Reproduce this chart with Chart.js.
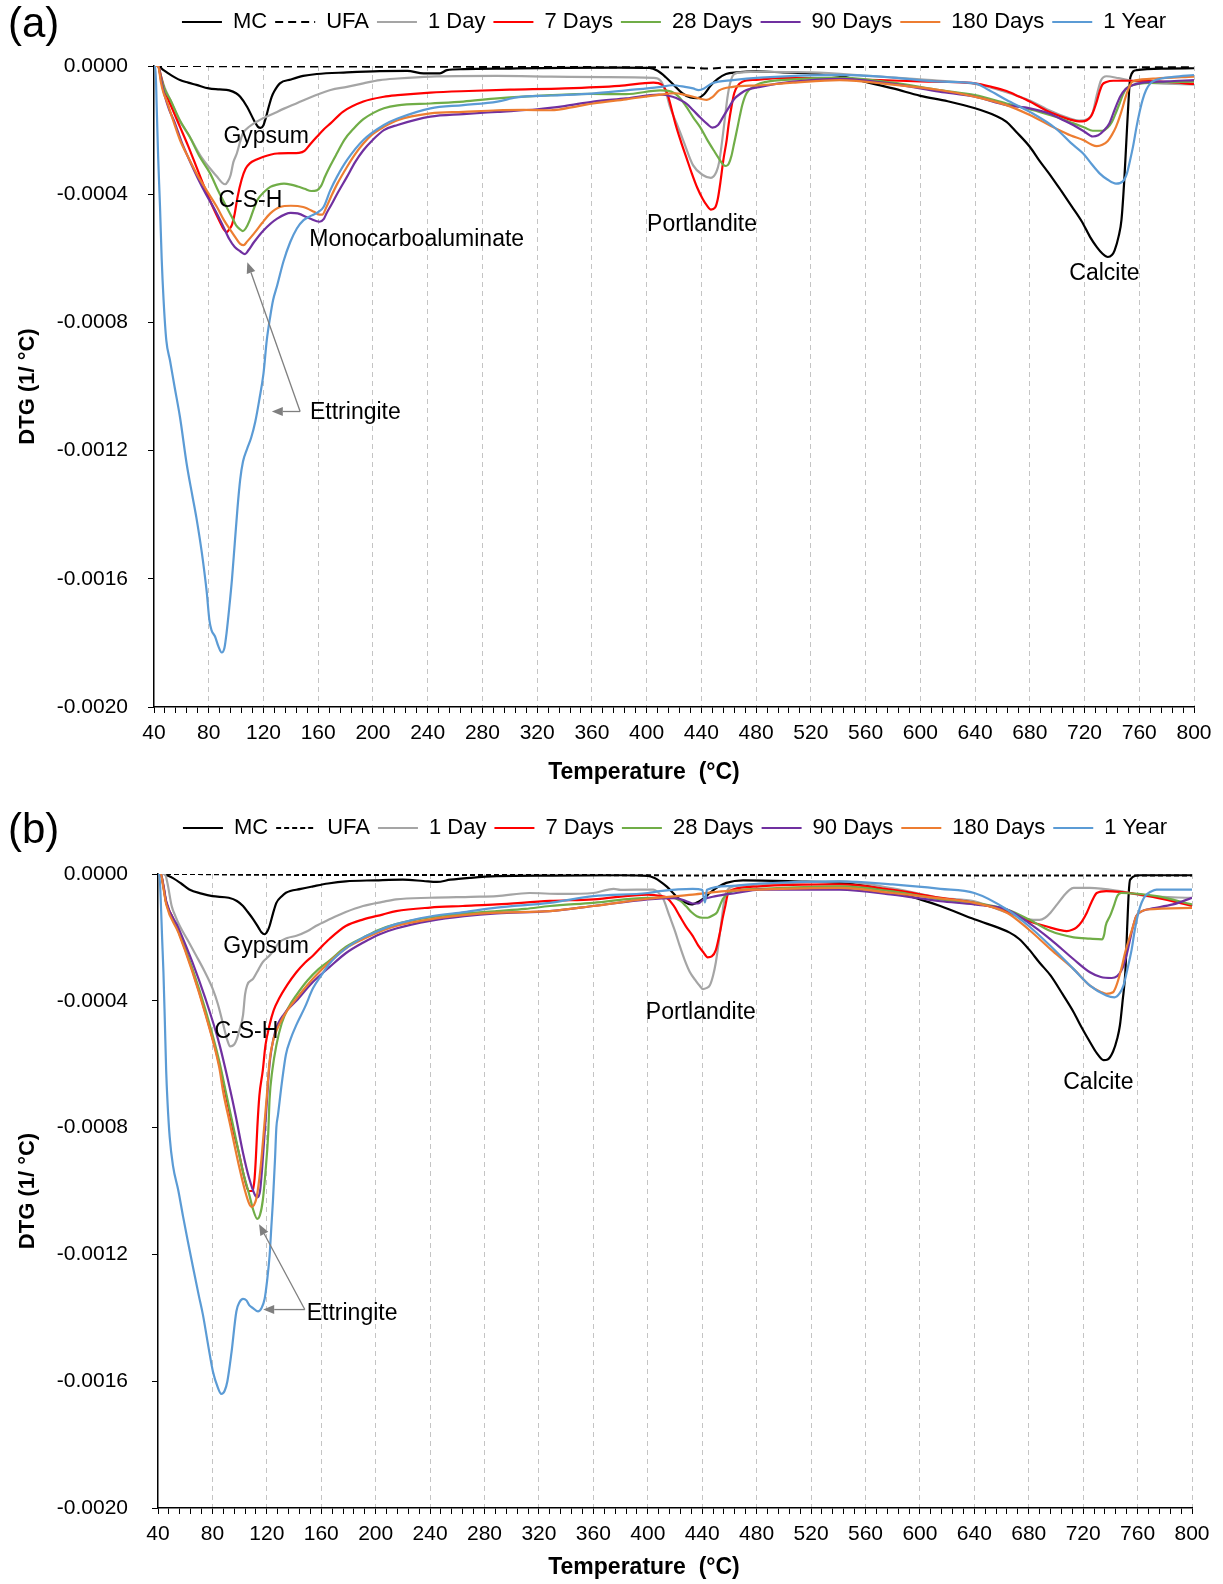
<!DOCTYPE html>
<html>
<head>
<meta charset="utf-8">
<title>DTG curves</title>
<script src="https://cdn.jsdelivr.net/npm/chart.js@4.4.1/dist/chart.umd.min.js"></script>
<style>
    html, body { margin: 0; padding: 0; background: #fff; }
    #page { position: relative; width: 1223px; height: 1584px; overflow: hidden; }
    #page canvas { position: absolute; left: 0; }
</style>
</head>
<body>
<div id="page">
    <canvas id="chart-a" width="1223" height="806" style="top:0"></canvas>
    <canvas id="chart-b" width="1223" height="778" style="top:806px"></canvas>
</div>
<script>
/* ========================================
   DTG curves, panels (a) and (b)
   each series: [temperature °C, DTG in 1e-4 1/°C]
   ======================================== */
const DTG_UNIT = 1e-4;

const seriesNames = ['MC', 'UFA', '1 Day', '7 Days', '28 Days', '90 Days', '180 Days', '1 Year'];
const seriesColors = ['#000000', '#000000', '#A5A5A5', '#FF0000', '#70AD47', '#7030A0', '#ED7D31', '#5B9BD5'];

// ---------- panel (a) ----------
const A_MC = [[40,0],[43,0],[47,-0.13],[53,-0.3],[59,-0.44],[65,-0.52],[71,-0.59],[80,-0.7],[88,-0.73],[95,-0.76],[100,-0.85],[103,-0.96],[108,-1.27],[113,-1.69],[116,-1.9],[118,-1.93],[120,-1.85],[121.5,-1.65],[124,-1.25],[126,-0.96],[128,-0.78],[132,-0.54],[140,-0.42],[149,-0.31],[159,-0.25],[181,-0.2],[205,-0.16],[225,-0.15],[237,-0.23],[249,-0.23],[254,-0.13],[266,-0.1],[300,-0.08],[340,-0.06],[380,-0.05],[402,-0.06],[408,-0.15],[414,-0.35],[420,-0.6],[426,-0.85],[432,-0.98],[437,-1.0],[442,-0.88],[447,-0.6],[452,-0.4],[458,-0.25],[466,-0.2],[480,-0.17],[500,-0.2],[520,-0.23],[540,-0.3],[560,-0.5],[580,-0.7],[600,-0.93],[620,-1.1],[640,-1.32],[655,-1.55],[663,-1.74],[670,-2.05],[680,-2.52],[687,-2.95],[694,-3.35],[703,-3.9],[711,-4.4],[718,-4.85],[724,-5.33],[729,-5.65],[733,-5.85],[737,-5.96],[740,-5.9],[742,-5.75],[745,-5.3],[747,-4.8],[749,-3.6],[750.5,-2.4],[752,-1.2],[753.5,-0.35],[758,-0.13],[780,-0.08],[800,-0.07]];
const A_UFA = [[40,0],[60,0],[100,-0.01],[200,-0.02],[300,-0.03],[400,-0.04],[430,-0.05],[445,-0.08],[460,-0.04],[520,-0.03],[600,-0.03],[700,-0.04],[760,-0.04],[800,-0.04]];
const A_1DAY = [[40,0],[43,0],[45,-0.3],[48,-0.7],[52,-1.06],[58,-1.65],[66,-2.2],[74,-2.8],[81,-3.2],[86,-3.45],[90,-3.65],[92,-3.69],[94,-3.6],[96,-3.4],[98,-3.0],[100.5,-2.73],[103,-2.35],[105,-2.1],[110,-1.88],[115,-1.74],[120,-1.62],[125,-1.53],[135,-1.33],[144,-1.17],[159,-0.9],[169,-0.75],[181,-0.65],[193,-0.54],[205,-0.44],[218,-0.39],[242,-0.33],[290,-0.31],[330,-0.33],[370,-0.35],[405,-0.37],[410,-0.45],[414,-0.8],[417,-1.27],[422,-1.8],[427,-2.35],[434,-3.1],[441,-3.4],[447,-3.49],[451,-3.3],[453,-3.0],[455,-2.4],[457,-1.7],[459,-1.0],[461,-0.54],[464,-0.25],[470,-0.2],[480,-0.18],[520,-0.2],[560,-0.3],[600,-0.42],[640,-0.56],[660,-0.78],[680,-1.08],[695,-1.4],[708,-1.62],[716,-1.7],[722,-1.66],[726,-1.45],[729,-0.9],[732,-0.45],[736,-0.32],[745,-0.38],[760,-0.5],[800,-0.58]];
const A_7DAY = [[40,0],[43,0],[45,-0.3],[47,-0.65],[53,-1.3],[59,-1.9],[65,-2.5],[71,-3.15],[77,-3.8],[83,-4.4],[88,-4.85],[91,-5.1],[93,-5.18],[95,-5.1],[97,-4.95],[99,-4.6],[101,-4.1],[104,-3.55],[107,-3.2],[110,-3.04],[115,-2.92],[120,-2.83],[130,-2.73],[140,-2.72],[146,-2.71],[150,-2.65],[154,-2.45],[159,-2.21],[164,-1.98],[169,-1.79],[178,-1.43],[193,-1.11],[208,-0.96],[218,-0.91],[242,-0.83],[270,-0.78],[300,-0.74],[340,-0.7],[380,-0.62],[405,-0.52],[411,-0.58],[415,-0.85],[418,-1.3],[421,-1.8],[425,-2.35],[429,-2.85],[433,-3.35],[437,-3.8],[441,-4.15],[444,-4.35],[447,-4.48],[450,-4.42],[452,-4.15],[454,-3.6],[456,-2.95],[458.5,-2.31],[460,-1.8],[462,-1.27],[464,-0.85],[466,-0.65],[470,-0.49],[480,-0.43],[500,-0.37],[520,-0.38],[540,-0.41],[570,-0.44],[600,-0.48],[620,-0.5],[640,-0.54],[652,-0.65],[663,-0.78],[672,-0.95],[680,-1.11],[687,-1.27],[694,-1.43],[703,-1.58],[711,-1.69],[716,-1.73],[720,-1.72],[723,-1.65],[725,-1.55],[727,-1.35],[729,-1.1],[731,-0.8],[733,-0.58],[736,-0.5],[741,-0.46],[760,-0.46],[780,-0.5],[800,-0.56]];
const A_28DAY = [[40,0],[43,0],[45,-0.35],[48,-0.75],[52,-1.06],[59,-1.7],[66,-2.2],[73,-2.8],[81,-3.35],[87,-3.9],[93,-4.4],[97,-4.72],[100,-4.97],[103,-5.1],[105,-5.15],[107,-5.07],[110,-4.81],[113,-4.45],[116,-4.15],[120,-3.95],[125,-3.77],[130,-3.7],[135,-3.67],[140,-3.7],[145,-3.76],[150,-3.83],[155,-3.9],[159,-3.88],[162,-3.75],[165,-3.45],[169,-3.1],[174,-2.7],[179,-2.31],[186,-1.95],[193,-1.66],[200,-1.47],[208,-1.32],[218,-1.23],[242,-1.17],[266,-1.11],[291,-1.01],[330,-0.91],[360,-0.87],[385,-0.88],[410,-0.76],[418,-0.8],[424,-0.98],[429,-1.27],[434,-1.6],[439,-1.9],[444,-2.28],[449,-2.63],[453,-2.9],[456,-3.08],[458,-3.12],[460,-3.05],[462,-2.8],[464,-2.4],[466,-2.0],[468,-1.58],[470,-1.2],[473,-0.85],[478,-0.65],[483,-0.54],[507,-0.42],[540,-0.36],[580,-0.52],[614,-0.75],[640,-0.91],[663,-1.17],[687,-1.43],[700,-1.6],[712,-1.79],[720,-1.92],[726,-2.02],[733,-2.02],[737,-1.92],[740,-1.75],[743,-1.45],[745.6,-1.17],[748,-0.9],[750.5,-0.7],[755,-0.6],[772,-0.52],[800,-0.49]];
const A_90DAY = [[40,0],[43,0],[45,-0.4],[48,-0.95],[51,-1.35],[55,-1.75],[60,-2.35],[66,-2.95],[72,-3.5],[78,-4.0],[84,-4.45],[90,-4.95],[95,-5.4],[99,-5.65],[103,-5.78],[106.5,-5.87],[109,-5.75],[113,-5.5],[120,-5.13],[130,-4.76],[140,-4.58],[145,-4.6],[154,-4.76],[161,-4.86],[164,-4.78],[166,-4.6],[170,-4.3],[174,-3.98],[181,-3.46],[187,-3.0],[193,-2.63],[200,-2.3],[208,-2.0],[218,-1.84],[242,-1.58],[266,-1.5],[291,-1.43],[320,-1.35],[340,-1.25],[361,-1.11],[385,-1.01],[409,-0.89],[419,-0.96],[425,-1.07],[429,-1.17],[434,-1.38],[439,-1.6],[444,-1.8],[448,-1.92],[452,-1.85],[456,-1.58],[460,-1.3],[464,-1.03],[469,-0.85],[473,-0.75],[483,-0.65],[507,-0.49],[541,-0.4],[580,-0.56],[614,-0.8],[640,-0.96],[663,-1.22],[680,-1.32],[694,-1.48],[705,-1.7],[712,-1.85],[720,-2.05],[726,-2.2],[730,-2.16],[734,-2.02],[738,-1.8],[741,-1.48],[744,-1.15],[746,-0.96],[750,-0.72],[755,-0.6],[760,-0.54],[780,-0.48],[800,-0.44]];
const A_180DAY = [[40,0],[43,0],[45,-0.5],[47,-0.85],[49,-1.06],[54,-1.7],[59,-2.31],[65,-2.85],[71,-3.35],[78,-3.85],[86,-4.4],[91,-4.8],[96,-5.13],[100,-5.38],[103,-5.55],[105.5,-5.59],[108,-5.48],[113,-5.23],[119,-4.9],[125,-4.6],[132,-4.4],[140,-4.36],[149,-4.4],[157,-4.55],[161,-4.64],[163,-4.64],[166,-4.4],[170,-4.02],[174,-3.67],[181,-3.15],[187,-2.75],[193,-2.42],[200,-2.12],[208,-1.9],[218,-1.69],[242,-1.48],[266,-1.43],[291,-1.38],[310,-1.37],[330,-1.38],[350,-1.25],[361,-1.17],[385,-1.04],[409,-0.9],[421,-0.85],[428,-0.9],[434,-0.96],[440,-1.03],[444,-1.06],[448,-0.97],[453,-0.76],[463,-0.65],[483,-0.6],[507,-0.52],[541,-0.44],[580,-0.58],[614,-0.75],[640,-0.96],[663,-1.22],[680,-1.53],[699,-1.95],[710,-2.17],[719,-2.31],[725,-2.45],[729,-2.5],[733,-2.46],[737,-2.34],[740,-2.15],[743,-1.9],[746,-1.55],[748,-1.27],[750,-0.97],[752,-0.72],[755,-0.49],[762,-0.42],[772,-0.39],[800,-0.33]];
const A_1YEAR = [[40,0],[41,0],[42,-1.3],[43,-2.8],[44.4,-4.4],[45.6,-6.0],[47,-7.3],[49,-8.56],[51.7,-9.19],[55,-10.0],[59,-10.96],[64,-12.45],[68,-13.4],[71,-14.1],[75,-15.2],[78.5,-16.4],[80.5,-17.3],[82,-17.6],[84.6,-17.8],[87,-18.1],[89.5,-18.3],[91.5,-18.15],[93,-17.7],[95,-16.9],[97,-16.0],[99,-14.9],[101,-13.8],[103,-12.9],[105,-12.35],[108,-11.95],[111,-11.6],[114,-11.1],[117,-10.4],[120,-9.6],[122.4,-8.56],[125,-7.8],[127,-7.31],[130,-6.85],[134.6,-6.1],[139.5,-5.5],[144.4,-5.07],[149.3,-4.81],[155.4,-4.66],[160.2,-4.55],[163.9,-4.4],[168.8,-3.88],[173.7,-3.46],[181,-2.94],[193,-2.31],[208,-1.84],[218,-1.64],[242,-1.32],[266,-1.22],[291,-1.11],[305,-0.98],[330,-0.92],[360,-0.86],[385,-0.76],[409,-0.66],[419,-0.6],[428,-0.65],[434,-0.7],[438,-0.75],[442,-0.7],[448,-0.54],[463,-0.44],[483,-0.36],[541,-0.28],[580,-0.36],[614,-0.49],[640,-0.54],[650,-0.75],[663,-1.06],[680,-1.43],[699,-1.95],[710,-2.4],[719,-2.73],[725,-3.05],[731,-3.35],[737,-3.55],[743,-3.67],[748,-3.6],[751,-3.35],[753.5,-2.9],[755.5,-2.5],[758,-1.9],[760,-1.48],[762.5,-1.05],[765,-0.75],[768,-0.55],[772,-0.44],[785,-0.34],[800,-0.28]];

// ---------- panel (b) ----------
const B_MC = [[40,0],[44,0],[47,-0.05],[51,-0.13],[57,-0.3],[63,-0.49],[72,-0.62],[80,-0.7],[92,-0.75],[98,-0.85],[102.5,-1.01],[106,-1.2],[110,-1.43],[114,-1.7],[116,-1.84],[118.4,-1.9],[120.5,-1.8],[122,-1.64],[124.5,-1.25],[127,-0.91],[131,-0.7],[134,-0.59],[145,-0.47],[154,-0.39],[165,-0.3],[178,-0.23],[200,-0.2],[220,-0.18],[235,-0.22],[245,-0.25],[255,-0.18],[270,-0.12],[289,-0.07],[330,-0.05],[380,-0.04],[400,-0.06],[405,-0.13],[409,-0.23],[414,-0.4],[418.6,-0.6],[422,-0.75],[426,-0.86],[432,-0.96],[438,-0.86],[442,-0.74],[445.5,-0.6],[452,-0.4],[457.7,-0.28],[470,-0.2],[507,-0.23],[541,-0.28],[570,-0.45],[600,-0.8],[615,-1.01],[640,-1.43],[666,-1.85],[673,-2.05],[680,-2.37],[688,-2.8],[696,-3.2],[705,-3.8],[713,-4.36],[719,-4.85],[725,-5.3],[730,-5.65],[735,-5.87],[738,-5.85],[742,-5.6],[745,-5.2],[747,-4.78],[749,-4.0],[751,-3.1],[752.5,-1.54],[753.5,-0.6],[754.5,-0.18],[762,-0.04],[800,-0.04]];
const B_UFA = [[40,0],[60,0],[100,-0.02],[200,-0.03],[300,-0.03],[400,-0.04],[440,-0.05],[480,-0.03],[600,-0.04],[700,-0.05],[760,-0.05],[800,-0.05]];
const B_1DAY = [[40,0],[45,0],[47,-0.3],[50,-1.0],[53,-1.35],[56,-1.64],[62,-2.1],[68,-2.57],[74,-3.05],[80,-3.6],[84,-4.1],[88,-4.76],[91,-5.25],[93,-5.44],[96,-5.38],[98,-5.2],[100,-4.9],[102.5,-4.45],[104,-3.8],[105.5,-3.51],[110,-3.3],[114,-3.0],[117,-2.78],[122,-2.57],[126,-2.35],[129,-2.16],[135,-2.02],[141.7,-1.95],[150,-1.8],[156,-1.64],[166,-1.43],[178,-1.2],[190.7,-1.01],[205,-0.88],[215,-0.8],[240,-0.75],[270,-0.72],[289,-0.7],[313,-0.6],[336,-0.63],[360,-0.6],[370,-0.5],[375,-0.47],[380,-0.5],[404,-0.49],[408,-0.6],[411,-0.75],[416,-1.33],[420,-1.8],[423.5,-2.27],[427,-2.7],[431,-3.1],[435,-3.35],[438,-3.52],[440.6,-3.63],[443,-3.6],[445.5,-3.52],[448,-3.2],[450,-2.79],[452,-2.2],[454,-1.54],[456.5,-0.75],[460,-0.44],[470,-0.36],[482,-0.33],[541,-0.23],[580,-0.45],[615,-0.75],[640,-0.86],[664,-1.22],[680,-1.43],[688,-1.45],[692,-1.38],[696,-1.22],[701,-0.95],[705.5,-0.7],[710,-0.5],[713,-0.44],[725,-0.44],[747,-0.54],[767,-0.7],[800,-0.75]];
const B_7DAY = [[40,0],[42,0],[44,-0.4],[46,-0.9],[50,-1.3],[55,-1.8],[65,-3.0],[75,-4.4],[85,-6.0],[92,-7.4],[96,-8.2],[100,-8.9],[103,-9.5],[105.5,-9.9],[107,-10.0],[109.5,-10.0],[111,-9.6],[112,-8.9],[113,-8.0],[114.5,-7.0],[117,-6.2],[119,-5.4],[122,-4.76],[125,-4.3],[129,-3.93],[135,-3.5],[141.7,-3.1],[148,-2.8],[154,-2.57],[160,-2.3],[166,-2.05],[178,-1.64],[191,-1.43],[205,-1.28],[215,-1.17],[240,-1.06],[264,-1.01],[289,-0.96],[328,-0.85],[360,-0.8],[400,-0.65],[410,-0.7],[414,-0.75],[419,-1.0],[423.5,-1.33],[428,-1.65],[433,-1.95],[437,-2.25],[441,-2.48],[444,-2.63],[447,-2.6],[450,-2.4],[453,-1.85],[455,-1.4],[457,-1.0],[459,-0.6],[462.6,-0.49],[482,-0.39],[541,-0.33],[580,-0.5],[615,-0.75],[640,-0.91],[664,-1.17],[680,-1.48],[696,-1.69],[703,-1.77],[708,-1.8],[712,-1.76],[715,-1.69],[719,-1.5],[722.7,-1.22],[726,-0.9],[730,-0.6],[737,-0.54],[762,-0.65],[780,-0.8],[800,-1.01]];
const B_28DAY = [[40,0],[42,0],[44,-0.4],[46,-0.9],[55,-1.8],[65,-2.95],[75,-4.3],[85,-5.9],[90,-6.9],[96,-8.1],[102.5,-9.4],[107,-10.1],[110,-10.6],[113,-10.88],[115,-10.75],[117,-10.3],[119,-9.4],[121,-8.2],[122,-7.1],[124,-6.2],[127,-5.4],[131,-4.7],[136,-4.2],[141.7,-3.82],[150,-3.35],[158,-3.0],[166,-2.73],[178,-2.3],[191,-2.0],[203,-1.75],[215,-1.58],[240,-1.37],[265,-1.25],[289,-1.17],[310,-1.1],[328,-1.01],[360,-0.91],[400,-0.75],[418.6,-0.75],[424,-0.85],[428,-1.01],[432,-1.2],[436,-1.33],[440,-1.38],[444,-1.38],[448,-1.3],[451,-1.2],[453,-1.0],[455,-0.8],[458,-0.65],[462,-0.55],[482,-0.47],[541,-0.39],[580,-0.55],[615,-0.8],[640,-0.91],[664,-1.12],[680,-1.43],[696,-1.8],[713,-2.0],[725,-2.04],[734,-2.06],[735.5,-1.9],[736.5,-1.64],[740,-1.3],[743,-0.95],[745,-0.7],[748,-0.6],[774,-0.7],[800,-0.96]];
const B_90DAY = [[40,0],[42,0],[44,-0.35],[46,-0.85],[55,-1.7],[65,-2.75],[75,-3.95],[85,-5.35],[93,-6.8],[97,-7.6],[102.5,-8.8],[107,-9.6],[111,-10.1],[113,-10.2],[115,-10.0],[116.5,-9.3],[118,-8.4],[119.5,-7.5],[122,-6.0],[126,-5.0],[133,-4.4],[141.7,-4.0],[154,-3.4],[166,-2.94],[178,-2.5],[191,-2.16],[203,-1.9],[215,-1.72],[240,-1.48],[265,-1.33],[289,-1.24],[328,-1.17],[360,-1.01],[400,-0.8],[420,-0.76],[428,-0.85],[433,-0.93],[437,-0.93],[441,-0.8],[450,-0.7],[465,-0.6],[482,-0.49],[541,-0.49],[580,-0.65],[615,-0.86],[640,-0.96],[664,-1.12],[680,-1.54],[696,-2.06],[713,-2.69],[725,-3.1],[733,-3.25],[741,-3.28],[745,-3.22],[748,-3.05],[750,-2.85],[752.5,-2.45],[754.5,-2.06],[757,-1.6],[759,-1.33],[763,-1.18],[767,-1.12],[786,-0.96],[800,-0.75]];
const B_180DAY = [[40,0],[42,0],[44,-0.45],[46,-0.95],[55,-1.85],[65,-3.05],[75,-4.45],[85,-6.1],[88,-6.9],[93,-7.9],[100,-9.3],[104,-10.0],[107,-10.4],[108.6,-10.5],[110.5,-10.45],[112.5,-10.2],[114.5,-9.6],[116,-9.0],[118,-8.0],[120,-7.0],[122,-5.9],[125,-5.2],[129,-4.76],[135,-4.3],[141.7,-3.93],[154,-3.3],[166,-2.78],[178,-2.35],[191,-2.05],[203,-1.82],[215,-1.64],[240,-1.43],[264,-1.3],[289,-1.22],[328,-1.17],[360,-1.01],[400,-0.78],[433,-0.65],[457,-0.54],[482,-0.49],[541,-0.44],[580,-0.6],[615,-0.77],[640,-0.91],[664,-1.22],[680,-1.75],[696,-2.37],[713,-3.0],[725,-3.52],[733,-3.72],[737,-3.78],[742,-3.73],[745,-3.45],[748,-3.0],[751,-2.45],[754.5,-1.95],[757,-1.6],[759,-1.33],[763,-1.18],[767,-1.12],[800,-1.07]];
const B_1YEAR = [[40,0],[41,0],[42,-0.8],[43,-2.0],[44,-3.1],[45,-4.6],[46,-6.2],[47,-7.2],[48.6,-8.3],[51,-9.2],[55,-10.0],[58.4,-10.8],[62,-11.6],[65.7,-12.4],[70,-13.3],[73,-13.9],[77,-14.9],[80.4,-15.7],[84,-16.2],[86.5,-16.4],[89,-16.3],[91,-16.0],[94,-15.1],[97.6,-13.8],[100,-13.5],[102.5,-13.4],[105,-13.45],[107,-13.6],[110,-13.7],[113.5,-13.8],[116,-13.7],[118.4,-13.4],[120,-12.9],[122,-12.05],[123.5,-11.0],[124.5,-10.3],[126,-9.0],[127,-8.0],[128.2,-7.6],[131,-6.6],[134,-5.7],[137.5,-5.2],[141.7,-4.76],[148,-4.2],[154,-3.6],[160,-3.2],[166,-2.83],[178,-2.35],[191,-2.0],[203,-1.77],[215,-1.58],[240,-1.34],[265,-1.2],[289,-1.06],[328,-0.91],[360,-0.7],[400,-0.6],[409,-0.54],[433,-0.47],[440,-0.5],[442,-0.9],[443.5,-0.5],[460,-0.38],[482,-0.3],[541,-0.23],[580,-0.33],[615,-0.47],[640,-0.6],[664,-1.12],[680,-1.64],[696,-2.27],[713,-3.0],[725,-3.52],[737,-3.83],[743,-3.89],[747,-3.75],[749.6,-3.52],[752,-3.1],[755.7,-2.37],[758,-1.75],[760.6,-1.22],[763,-0.9],[765.5,-0.7],[770,-0.55],[774,-0.49],[800,-0.49]];

const seriesA = [A_MC, A_UFA, A_1DAY, A_7DAY, A_28DAY, A_90DAY, A_180DAY, A_1YEAR];
const seriesB = [B_MC, B_UFA, B_1DAY, B_7DAY, B_28DAY, B_90DAY, B_180DAY, B_1YEAR];

// peak names, placed at [temperature, DTG]
const notesA = [
    { text: 'Gypsum', at: [122, -2.22] },
    { text: 'C-S-H', at: [110.4, -4.2] },
    { text: 'Monocarboaluminate', at: [232, -5.42] },
    { text: 'Portlandite', at: [440.5, -4.95] },
    { text: 'Calcite', at: [734.6, -6.47] },
    { text: 'Ettringite', at: [154, -10.83], align: 'left' }
];
const arrowsA = [
    { from: [146.8, -10.78], to: [126.1, -10.78] },
    { from: [146.8, -10.78], to: [108.2, -6.12] }
];
const notesB = [
    { text: 'Gypsum', at: [119.5, -2.3] },
    { text: 'C-S-H', at: [105, -4.98] },
    { text: 'Portlandite', at: [439, -4.37] },
    { text: 'Calcite', at: [731.2, -6.58] },
    { text: 'Ettringite', at: [149.3, -13.87], align: 'left' }
];
const arrowsB = [
    { from: [147.9, -13.74], to: [117.3, -13.74] },
    { from: [147.9, -13.74], to: [114.3, -11.05] }
];

const FONT = '"Liberation Sans", Arial, Helvetica, sans-serif';
Chart.defaults.font.family = FONT;
Chart.defaults.color = '#000';

const toPoints = pairs => pairs.map(([t, d]) => ({ x: t, y: d * DTG_UNIT }));

// legend entries take dash and width from the dataset line, not the point
const legendLabels = chart => Chart.defaults.plugins.legend.labels.generateLabels(chart).map(item => {
    const ds = chart.data.datasets[item.datasetIndex];
    item.lineDash = ds.borderDash;
    item.lineWidth = ds.borderWidth;
    item.strokeStyle = ds.borderColor;
    return item;
});

// labels, arrows, x title and the panel letter
const notesPlugin = {
    id: 'notes',
    afterDatasetsDraw(chart, args, opts) {
        const { ctx } = chart;
        const xs = chart.scales.x, ys = chart.scales.y;
        const px = p => [xs.getPixelForValue(p[0]), ys.getPixelForValue(p[1] * DTG_UNIT)];
        ctx.save();
        ctx.strokeStyle = '#7f7f7f';
        ctx.fillStyle = '#7f7f7f';
        ctx.lineWidth = 1.3;
        (opts.arrows || []).forEach(a => {
            const [x1, y1] = px(a.from), [x2, y2] = px(a.to);
            const ang = Math.atan2(y2 - y1, x2 - x1);
            const len = 11, half = 4.5;
            const bx = x2 - Math.cos(ang) * len, by = y2 - Math.sin(ang) * len;
            ctx.beginPath(); ctx.moveTo(x1, y1); ctx.lineTo(bx, by); ctx.stroke();
            ctx.beginPath();
            ctx.moveTo(x2, y2);
            ctx.lineTo(bx + Math.sin(ang) * half, by - Math.cos(ang) * half);
            ctx.lineTo(bx - Math.sin(ang) * half, by + Math.cos(ang) * half);
            ctx.closePath(); ctx.fill();
        });
        ctx.fillStyle = '#000';
        ctx.font = `23px ${FONT}`;
        ctx.textBaseline = 'middle';
        (opts.labels || []).forEach(l => {
            const [x, y] = px(l.at);
            ctx.textAlign = l.align || 'center';
            ctx.fillText(l.text, x, y);
        });
        if (opts.xTitle) {
            ctx.font = `bold 23px ${FONT}`;
            ctx.textAlign = 'center';
            ctx.fillText(opts.xTitle.text, opts.xTitle.x, opts.xTitle.y);
        }
        if (opts.letter) {
            ctx.font = `42px ${FONT}`;
            ctx.textAlign = 'left';
            ctx.fillText(opts.letter, 8, 25);
        }
        ctx.restore();
    }
};

function makeChart(id, series, p) {
    const datasets = series.map((pairs, i) => ({
        label: seriesNames[i],
        data: toPoints(pairs),
        borderColor: seriesColors[i],
        backgroundColor: seriesColors[i],
        borderWidth: i === 1 ? 2 : 2.2,
        borderDash: i === 1 ? p.dash : [],
        pointRadius: 0,
        fill: false,
        cubicInterpolationMode: 'monotone',
        order: series.length - i
    }));

    return new Chart(document.getElementById(id), {
        type: 'line',
        data: { datasets },
        options: {
            responsive: false,
            animation: false,
            events: [],
            layout: { padding: { left: 0, right: p.right, top: 3, bottom: 0 } },
            plugins: {
                legend: {
                    position: 'top',
                    fullSize: false,
                    labels: {
                        usePointStyle: true,
                        pointStyle: 'line',
                        pointStyleWidth: 40,
                        padding: 8,
                        color: '#000',
                        font: { size: 22 },
                        generateLabels: legendLabels,
                        sort: (a, b) => a.datasetIndex - b.datasetIndex
                    }
                },
                tooltip: { enabled: false },
                notes: {
                    letter: p.letter, labels: p.labels, arrows: p.arrows,
                    xTitle: { text: 'Temperature  (°C)', x: 644, y: p.xTitleY }
                }
            },
            scales: {
                x: {
                    type: 'linear',
                    position: 'bottom',
                    min: 40, max: 800,
                    afterFit: s => { s.height = p.xAxisHeight; },
                    ticks: {
                        stepSize: 8, autoSkip: false, maxTicksLimit: 200,
                        maxRotation: 0, minRotation: 0, padding: 8,
                        color: '#000', font: { size: 21 },
                        callback: v => (v % 40 === 0 ? String(v) : '')
                    },
                    grid: {
                        color: c => (c.tick && c.tick.value % 40 === 0 && c.tick.value > 40) ? '#c4c4c4' : 'rgba(0,0,0,0)',
                        lineWidth: 1,
                        tickColor: '#000',
                        tickLength: 6
                    },
                    border: { color: '#000', width: 1.5, dash: [5, 4] },
                    title: { display: false }
                },
                xTop: {
                    type: 'linear',
                    position: 'top',
                    grid: { display: false },
                    ticks: { display: false },
                    border: { display: false },
                    afterFit: s => { s.height = p.topGap; }
                },
                y: {
                    min: -0.002, max: 0,
                    afterFit: s => { s.width = p.yAxisWidth; },
                    ticks: {
                        stepSize: 0.0004, padding: p.yTickPad,
                        color: '#000', font: { size: 21 },
                        callback: v => (Math.abs(v) < 1e-9 ? 0 : v).toFixed(4)
                    },
                    grid: { drawOnChartArea: false, tickColor: '#000', tickLength: 6 },
                    border: { color: '#000', width: 1.5 },
                    title: {
                        display: true, text: 'DTG (1/ °C)', color: '#000',
                        font: { size: 22, weight: 'bold' },
                        padding: { top: 15, bottom: 0 }
                    }
                }
            }
        },
        plugins: [notesPlugin]
    });
}

makeChart('chart-a', seriesA, {
    letter: '(a)', labels: notesA, arrows: arrowsA, dash: [8, 5],
    right: 29, topGap: 23, xAxisHeight: 99, xTitleY: 773, yAxisWidth: 154, yTickPad: 20
});
makeChart('chart-b', seriesB, {
    letter: '(b)', labels: notesB, arrows: arrowsB, dash: [5, 3],
    right: 31, topGap: 25, xAxisHeight: 76, xTitleY: 762, yAxisWidth: 158, yTickPad: 24
});
</script>
</body>
</html>
